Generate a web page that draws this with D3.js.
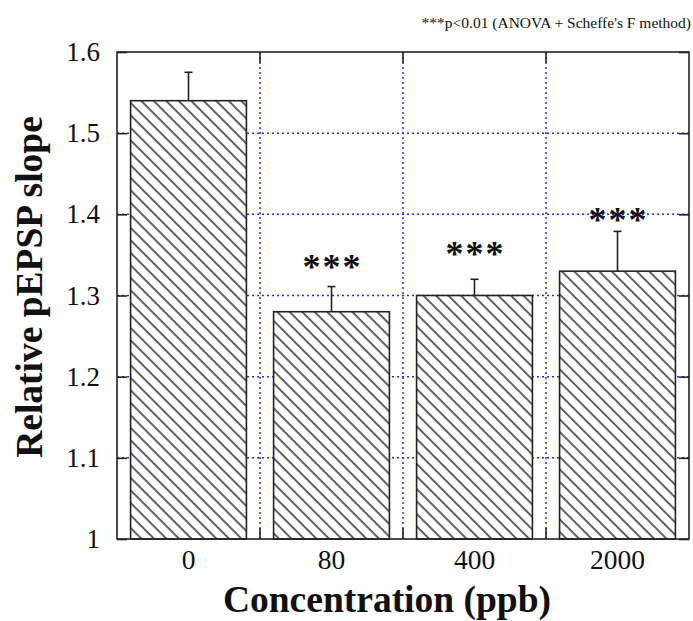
<!DOCTYPE html>
<html>
<head>
<meta charset="utf-8">
<script src="https://cdn.jsdelivr.net/npm/d3@7"></script>
<style>
  html, body { margin: 0; padding: 0; background: #fff; }
  svg { display: block; }
</style>
</head>
<body>
<svg id="chart" width="693" height="621"></svg>
<script>
// ---- data ----
const categories = ["0", "80", "400", "2000"];
const means = [1.54, 1.28, 1.30, 1.33];
const errors = [0.035, 0.031, 0.020, 0.049];
const significance = ["", "***", "***", "***"];
const starLevels = [null, 1.344, 1.360, 1.402];
const yTicks = [1, 1.1, 1.2, 1.3, 1.4, 1.5, 1.6];
const yTickLabels = ["1", "1.1", "1.2", "1.3", "1.4", "1.5", "1.6"];
const xTitle = "Concentration (ppb)";
const yTitle = "Relative pEPSP slope";
const note = "***p<0.01 (ANOVA + Scheffe's F method)";

// ---- layout ----
const L = 117, R = 689, T = 52, B = 539;
const svg = d3.select("#chart");
const serif = "'Liberation Serif', 'Times New Roman', serif";
const ink = "#222";

const y = d3.scaleLinear().domain([1, 1.6]).range([B, T]);
const xBand = d3.scaleBand().domain(categories).range([L, R]).paddingInner(0.19).paddingOuter(0.095);
const xCell = d3.scaleBand().domain(categories).range([L, R]).padding(0);

// hatch pattern
const defs = svg.append("defs");
const pat = defs.append("pattern")
  .attr("id", "hatch").attr("patternUnits", "userSpaceOnUse")
  .attr("width", 8.84).attr("height", 8.84)
  .attr("patternTransform", "rotate(-45)");
pat.append("rect").attr("width", 8.84).attr("height", 8.84).attr("fill", "#fff");
pat.append("line").attr("x1", 2).attr("x2", 2).attr("y1", -1).attr("y2", 10)
  .attr("stroke", "#111").attr("stroke-width", 1.3);

// grid
const gridColor = "#2a2aff";
const grid = svg.append("g");
grid.selectAll("line.h").data(yTicks.filter(d => d > 1 && d < 1.6)).join("line")
  .attr("x1", L).attr("x2", R).attr("y1", d => y(d)).attr("y2", d => y(d))
  .attr("stroke", gridColor).attr("stroke-width", 1.5).attr("stroke-dasharray", "2,3");
grid.selectAll("line.v").data(categories.slice(1)).join("line")
  .attr("x1", d => xCell(d)).attr("x2", d => xCell(d)).attr("y1", T).attr("y2", B)
  .attr("stroke", gridColor).attr("stroke-width", 1.5).attr("stroke-dasharray", "2,3");

// bars
const bars = svg.append("g");
bars.selectAll("rect").data(categories).join("rect")
  .attr("x", d => xBand(d)).attr("width", xBand.bandwidth())
  .attr("y", (d, i) => y(means[i])).attr("height", (d, i) => B - y(means[i]))
  .attr("fill", "url(#hatch)").attr("stroke", ink).attr("stroke-width", 1.6);

// error bars (upper whisker)
const eb = svg.append("g").attr("stroke", ink).attr("stroke-width", 1.6);
categories.forEach((c, i) => {
  const cx = xBand(c) + xBand.bandwidth() / 2;
  eb.append("line").attr("x1", cx).attr("x2", cx)
    .attr("y1", y(means[i])).attr("y2", y(means[i] + errors[i]));
  eb.append("line").attr("x1", cx - 4).attr("x2", cx + 4)
    .attr("y1", y(means[i] + errors[i])).attr("y2", y(means[i] + errors[i]));
});

// significance stars
svg.append("g").selectAll("text").data(categories).join("text")
  .attr("x", d => xBand(d) + xBand.bandwidth() / 2 + 1)
  .attr("y", (d, i) => starLevels[i] == null ? 0 : y(starLevels[i]) + 19)
  .attr("text-anchor", "middle")
  .attr("font-family", serif).attr("font-weight", "bold").attr("font-size", 36).attr("letter-spacing", 2)
  .attr("fill", "#111")
  .text((d, i) => significance[i]);

// frame
svg.append("rect").attr("x", L).attr("y", T).attr("width", R - L).attr("height", B - T)
  .attr("fill", "none").attr("stroke", ink).attr("stroke-width", 1.6);

// y axis (left, ticks inward) and right mirror ticks
const yAxis = d3.axisLeft(y).tickValues(yTicks)
  .tickFormat((d, i) => yTickLabels[i]).tickSizeInner(-10).tickSizeOuter(0).tickPadding(17);
const gy = svg.append("g").attr("transform", `translate(${L},0)`).call(yAxis);
gy.select(".domain").remove();
gy.selectAll(".tick line").attr("stroke", ink).attr("stroke-width", 1.6);
gy.selectAll(".tick text").attr("font-family", serif).attr("font-size", 27).attr("fill", "#111");
const yAxisR = d3.axisRight(y).tickValues(yTicks).tickFormat("").tickSizeInner(-10).tickSizeOuter(0);
const gyr = svg.append("g").attr("transform", `translate(${R},0)`).call(yAxisR);
gyr.select(".domain").remove();
gyr.selectAll(".tick line").attr("stroke", ink).attr("stroke-width", 1.6);

// x ticks at category boundaries (top and bottom)
const xt = svg.append("g").attr("stroke", ink).attr("stroke-width", 1.6);
categories.slice(1).forEach(c => {
  xt.append("line").attr("x1", xCell(c)).attr("x2", xCell(c)).attr("y1", B).attr("y2", B - 11);
  xt.append("line").attr("x1", xCell(c)).attr("x2", xCell(c)).attr("y1", T).attr("y2", T + 11);
});

// x axis labels
const xAxis = d3.axisBottom(xCell).tickSize(0).tickPadding(0);
const gx = svg.append("g").attr("transform", `translate(0,${B})`).call(xAxis);
gx.select(".domain").remove();
gx.selectAll(".tick text").attr("dy", null).attr("y", 30)
  .attr("font-family", serif).attr("font-size", 27.5).attr("fill", "#111");

// titles
svg.append("text").attr("x", 387).attr("y", 612).attr("text-anchor", "middle")
  .attr("font-family", serif).attr("font-weight", "bold").attr("font-size", 37.5).attr("fill", "#111")
  .text(xTitle);
svg.append("text").attr("transform", "translate(42,287) rotate(-90)").attr("text-anchor", "middle")
  .attr("font-family", serif).attr("font-weight", "bold").attr("font-size", 37.5).attr("fill", "#111")
  .text(yTitle);
svg.append("text").attr("x", 691).attr("y", 28).attr("text-anchor", "end")
  .attr("font-family", serif).attr("font-size", 15.5).attr("fill", "#111")
  .text(note);
</script>
</body>
</html>
